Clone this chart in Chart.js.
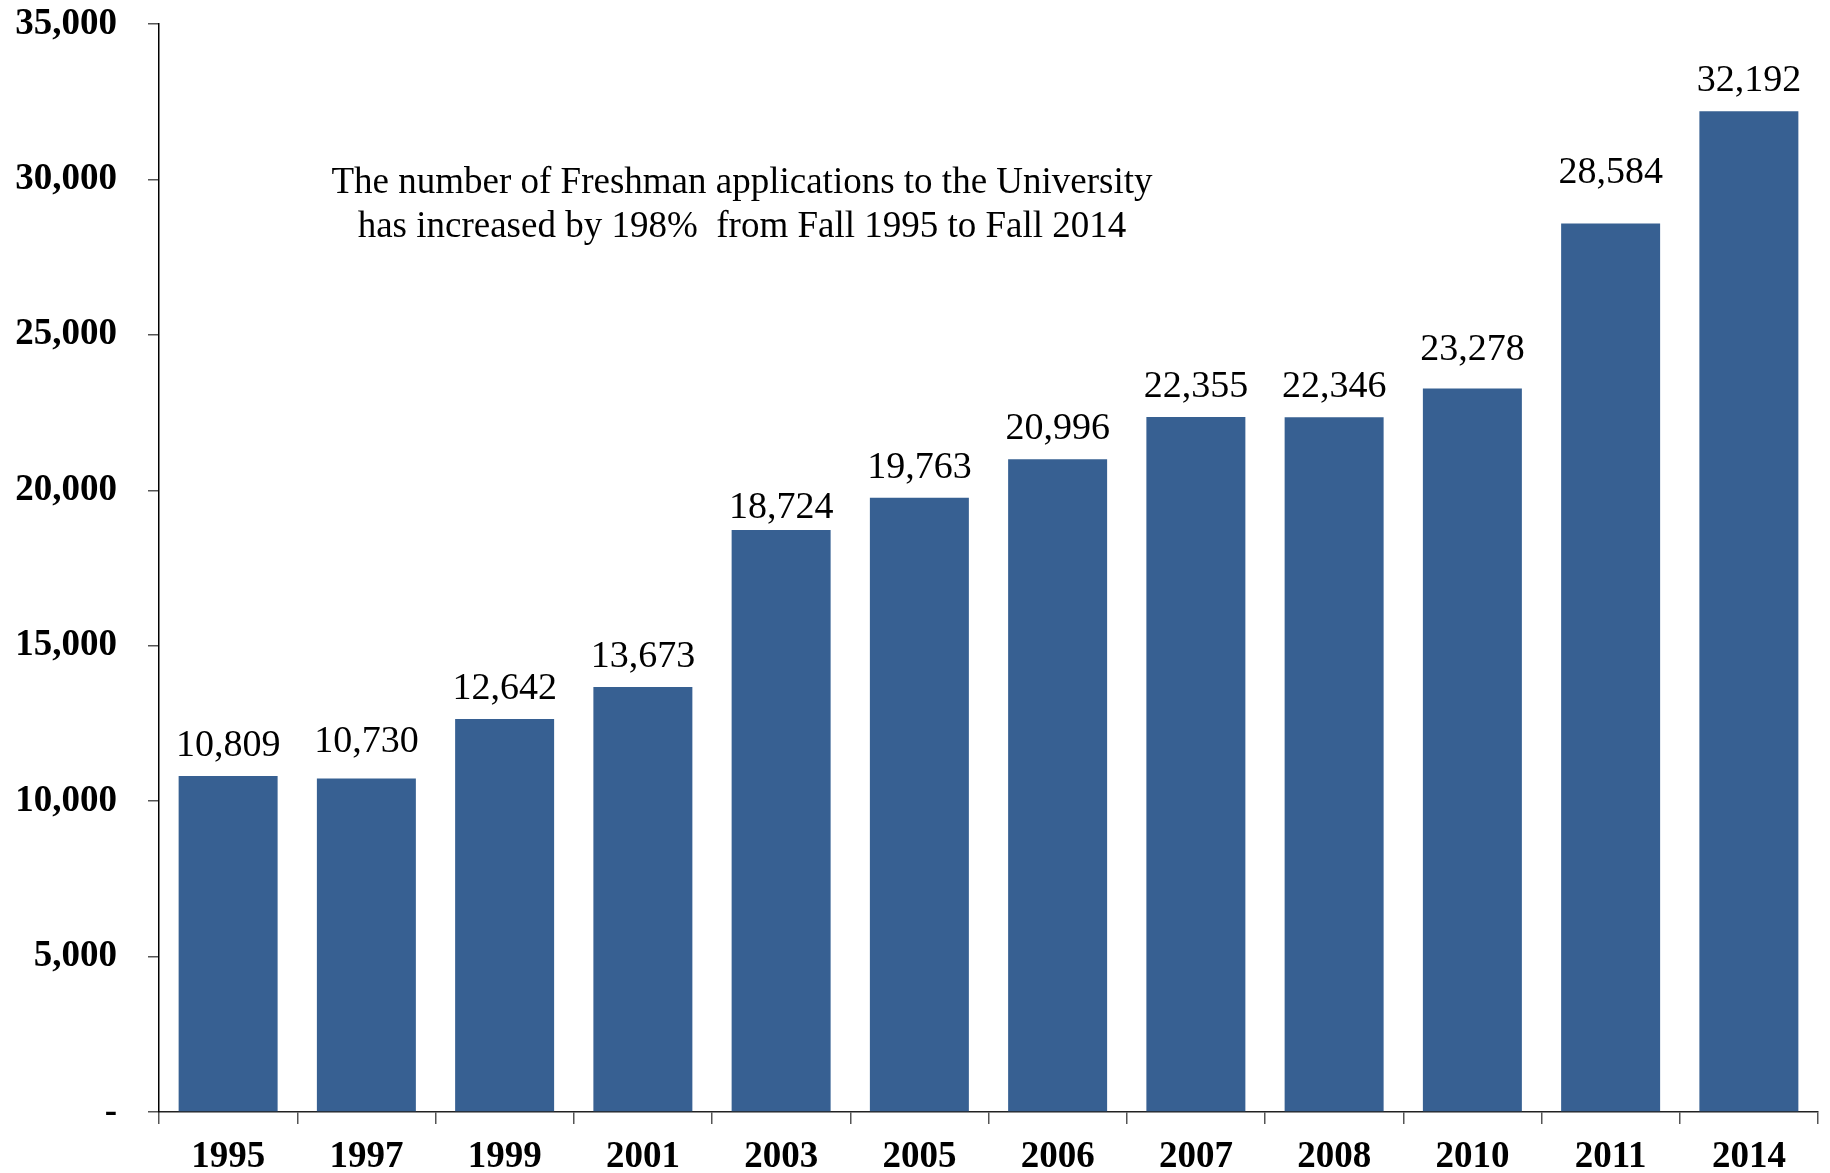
<!DOCTYPE html>
<html lang="en">
<head>
    <meta charset="UTF-8">
    <title>Freshman Applications</title>
    <script src="https://cdn.jsdelivr.net/npm/chart.js"></script>
    <style>
        html, body { margin: 0; padding: 0; background: #fff; overflow: hidden; }
        .wrap { width: 1830px; height: 1173px; position: relative; }
    </style>
</head>
<body>
    <div class="wrap">
        <canvas id="appsChart"></canvas>
    </div>

    <script>
        // data
        const years = ['1995', '1997', '1999', '2001', '2003', '2005', '2006', '2007', '2008', '2010', '2011', '2014'];
        const applications = [10809, 10730, 12642, 13673, 18724, 19763, 20996, 22355, 22346, 23278, 28584, 32192];
        const yTicks = [0, 5000, 10000, 15000, 20000, 25000, 30000, 35000];
        const noteLines = [
            'The number of Freshman applications to the University',
            'has increased by 198%  from Fall 1995 to Fall 2014'
        ];

        const serif = '"Liberation Serif", "Times New Roman", serif';

        // a few labels sit a little off the default spot in the original
        const labelGap = 20;
        const labelNudge = [0, 6, 0, 0, -8, 0, 0, 0, 0, 8, 20, 0];

        function fmt(v) {
            return v === 0 ? '-' : v.toLocaleString('en-US');
        }

        // value labels above each bar
        const barLabels = {
            id: 'barLabels',
            afterDatasetsDraw(chart) {
                const ctx = chart.ctx;
                const meta = chart.getDatasetMeta(0);
                ctx.save();
                ctx.font = '38px ' + serif;
                ctx.fillStyle = '#000';
                ctx.textAlign = 'center';
                ctx.textBaseline = 'alphabetic';
                meta.data.forEach(function(bar, i) {
                    ctx.fillText(fmt(applications[i]), bar.x, bar.y - labelGap - labelNudge[i]);
                });
                ctx.restore();
            }
        };

        // the text note in the upper left
        const note = {
            id: 'note',
            afterDraw(chart) {
                const ctx = chart.ctx;
                ctx.save();
                ctx.font = '37px ' + serif;
                ctx.fillStyle = '#000';
                ctx.textAlign = 'center';
                ctx.textBaseline = 'alphabetic';
                ctx.fillText(noteLines[0], 742, 193);
                ctx.fillText(noteLines[1], 742, 237);
                ctx.restore();
            }
        };

        new Chart(document.getElementById('appsChart'), {
            type: 'bar',
            data: {
                labels: years,
                datasets: [{
                    data: applications,
                    backgroundColor: '#376092',
                    borderWidth: 0,
                    categoryPercentage: 1,
                    barPercentage: 0.716
                }]
            },
            options: {
                responsive: true,
                maintainAspectRatio: false,
                animation: false,
                layout: { padding: { top: 0, right: 12, left: 0, bottom: 0 } },
                plugins: {
                    legend: { display: false },
                    tooltip: { enabled: false }
                },
                scales: {
                    x: {
                        afterFit(scale) { scale.height = 61; },
                        grid: {
                            offset: true,
                            drawOnChartArea: false,
                            tickLength: 12,
                            color: '#555',
                            lineWidth: 1.5
                        },
                        border: { color: '#222', width: 1.5 },
                        ticks: {
                            color: '#000',
                            padding: 11,
                            font: { family: serif, size: 37, weight: 'bold' }
                        }
                    },
                    y: {
                        min: 0,
                        max: 35000,
                        afterFit(scale) {
                            scale.width = 159;
                            // tick padding is meant for the labels only, not for the top gap
                            scale.paddingTop = 24;
                            scale.paddingBottom = 0;
                        },
                        afterBuildTicks(scale) {
                            scale.ticks = yTicks.map(function(v) { return { value: v }; });
                        },
                        grid: {
                            drawOnChartArea: false,
                            tickLength: 11,
                            color: '#555',
                            lineWidth: 1.5
                        },
                        border: { color: '#000', width: 1.5 },
                        ticks: {
                            color: '#000',
                            padding: 31,
                            font: { family: serif, size: 37, weight: 'bold' },
                            callback: function(v) { return fmt(v); }
                        }
                    }
                }
            },
            plugins: [barLabels, note]
        });
    </script>
</body>
</html>
